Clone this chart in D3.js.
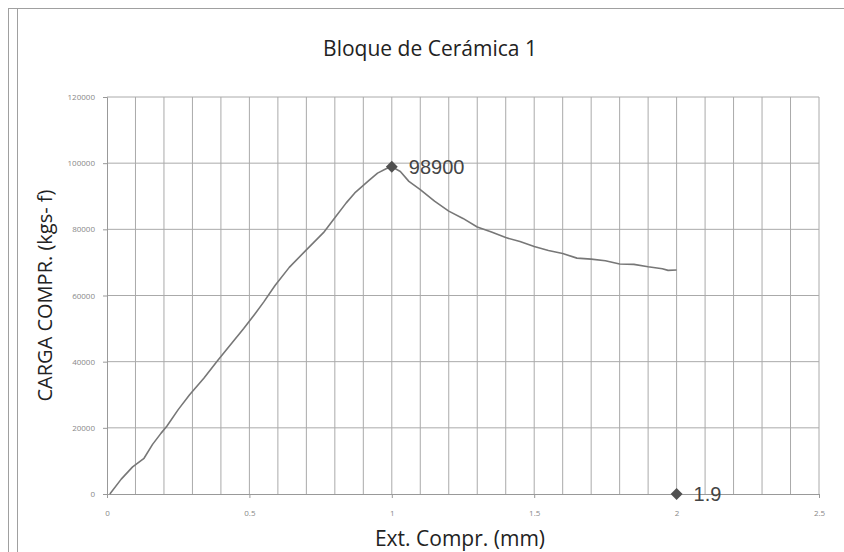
<!DOCTYPE html>
<html>
<head>
<meta charset="utf-8">
<script src="https://cdn.jsdelivr.net/npm/d3@7"></script>
<style>
  body { margin: 0; background: #fff; }
  .grid line { stroke: #aaa; stroke-width: 1; }
  .axis path, .axis line { stroke: #999; }
  .axis text { fill: #888; font-family: "Open Sans", sans-serif; font-size: 8px; }
</style>
</head>
<body>
<div id="chart"></div>
<script>
// Ext. Compr. (mm) vs CARGA COMPR. (kgs-f)
const extension = [0.01, 0.05, 0.09, 0.13, 0.16, 0.19, 0.21, 0.25, 0.29, 0.34, 0.39, 0.44, 0.48, 0.52,
  0.55, 0.59, 0.64, 0.70, 0.76, 0.80, 0.84, 0.87, 0.92, 0.95, 0.98, 1.00, 1.03, 1.06, 1.10, 1.15,
  1.20, 1.25, 1.30, 1.35, 1.40, 1.45, 1.50, 1.55, 1.60, 1.65, 1.70, 1.75, 1.80, 1.85, 1.90, 1.95, 1.97, 2.00];
const load = [0, 4500, 8200, 10800, 15000, 18400, 20500, 25500, 30000, 35000, 40500, 45800, 50000, 54500,
  58000, 63000, 68500, 73800, 79000, 83500, 88000, 91000, 94800, 97000, 98300, 98900, 97500, 94500, 92000, 88500,
  85500, 83300, 80700, 79200, 77500, 76300, 74800, 73600, 72700, 71300, 71000, 70500, 69500, 69400, 68700, 68100, 67600, 67700];

// labelled points
const markers = [
  { x: 1.0, y: 98900, label: "98900" },
  { x: 2.0, y: 0, label: "1.9" }
];

const yTicks = [0, 20000, 40000, 60000, 80000, 100000, 120000];
const xTicks = [0, 0.5, 1, 1.5, 2, 2.5];

const W = 844, H = 552;
const margin = { top: 97, right: 25, bottom: 58, left: 107 };
const width = W - margin.left - margin.right;
const height = H - margin.top - margin.bottom;

const svg = d3.select("#chart").append("svg")
  .attr("width", W)
  .attr("height", H);

// outer frame
svg.append("line").attr("x1", 8).attr("x2", W).attr("y1", 8.5).attr("y2", 8.5)
  .attr("stroke", "#a0a0a0");
svg.append("line").attr("x1", 8.5).attr("x2", 8.5).attr("y1", 8).attr("y2", H)
  .attr("stroke", "#a0a0a0");
svg.append("line").attr("x1", 17.5).attr("x2", 17.5).attr("y1", 8).attr("y2", H)
  .attr("stroke", "#a0a0a0");

const g = svg.append("g")
  .attr("transform", "translate(" + margin.left + "," + margin.top + ")");

const x = d3.scaleLinear().domain([0, 2.5]).range([0, width]);
const y = d3.scaleLinear().domain([0, 120000]).range([height, 0]);

// grid: verticals every 0.1, horizontals every 20000
g.append("g").attr("class", "grid")
  .selectAll("line").data(d3.range(1, 26).map(i => i / 10))
  .join("line")
  .attr("x1", d => x(d)).attr("x2", d => x(d))
  .attr("y1", 0).attr("y2", height)
  .attr("stroke-width", d => Math.abs(d - 2) < 1e-6 ? 2 : 1)
  .attr("stroke", d => Math.abs(d - 2) < 1e-6 ? "#c8c8c8" : null);

g.append("g").attr("class", "grid")
  .selectAll("line").data(yTicks.slice(1))
  .join("line")
  .attr("x1", 0).attr("x2", width)
  .attr("y1", d => y(d)).attr("y2", d => y(d));

// axes
g.append("g").attr("class", "axis")
  .call(d3.axisLeft(y).tickValues(yTicks).tickSize(4).tickPadding(8).tickFormat(d3.format("d")));

g.append("g").attr("class", "axis")
  .attr("transform", "translate(0," + height + ")")
  .call(d3.axisBottom(x).tickValues(xTicks).tickSize(4).tickPadding(12).tickFormat(d => d));

// curve
const data = extension.map((d, i) => ({ x: d, y: load[i] }));
g.append("path")
  .datum(data)
  .attr("fill", "none")
  .attr("stroke", "#777")
  .attr("stroke-width", 1.6)
  .attr("stroke-linejoin", "round")
  .attr("d", d3.line().x(d => x(d.x)).y(d => y(d.y)));

// markers + labels
g.selectAll(".mk").data(markers).join("path")
  .attr("class", "mk")
  .attr("transform", d => "translate(" + x(d.x) + "," + y(d.y) + ")")
  .attr("d", d3.symbol(d3.symbolDiamond2, 90))
  .attr("fill", "#505050");

g.selectAll(".mklabel").data(markers).join("text")
  .attr("class", "mklabel")
  .attr("x", d => x(d.x) + 17)
  .attr("y", d => y(d.y) + 7)
  .attr("fill", "#444")
  .style("font-family", "Liberation Sans, Arial, sans-serif")
  .style("font-size", "20px")
  .text(d => d.label);

// titles
svg.append("text")
  .attr("x", 430).attr("y", 56)
  .attr("text-anchor", "middle")
  .style("font-family", "Open Sans, sans-serif")
  .style("font-size", "21px")
  .attr("fill", "#222")
  .text("Bloque de Cerámica 1");

svg.append("text")
  .attr("transform", "translate(52," + (margin.top + height / 2) + ") rotate(-90)")
  .attr("text-anchor", "middle")
  .style("font-family", "Open Sans, sans-serif")
  .style("font-size", "20px")
  .attr("fill", "#222")
  .text("CARGA COMPR. (kgs- f)");

svg.append("text")
  .attr("x", 460).attr("y", 546)
  .attr("text-anchor", "middle")
  .style("font-family", "Open Sans, sans-serif")
  .style("font-size", "21px")
  .attr("fill", "#222")
  .text("Ext. Compr. (mm)");
</script>
</body>
</html>
